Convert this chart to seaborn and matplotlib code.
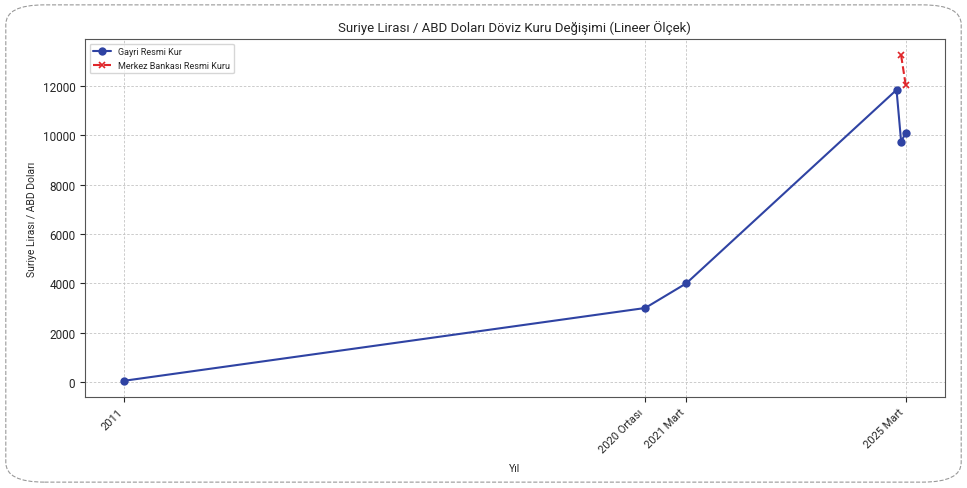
import matplotlib
matplotlib.use("Agg")
import matplotlib.pyplot as plt
import seaborn as sns
import pandas as pd
from matplotlib.patches import FancyBboxPatch

# --- Data (years as decimals, month/12) ---
gayri_years = [2011.0, 2020.5, 2021.25, 2025.083, 2025.167, 2025.25]
gayri_rates = [47, 3000, 4000, 11850, 9750, 10100]

merkez_years = [2025.167, 2025.25]
merkez_rates = [13250, 12050]

tick_positions = [2011.0, 2020.5, 2021.25, 2025.25]
tick_labels = ['2011', '2020 Ortası', '2021 Mart', '2025 Mart']

df_gayri = pd.DataFrame({'Yıl': gayri_years, 'Kur': gayri_rates})
df_merkez = pd.DataFrame({'Yıl': merkez_years, 'Kur': merkez_rates})

sns.set_style("ticks")
plt.rcParams['font.family'] = ['Roboto', 'DejaVu Sans']

fig = plt.figure(figsize=(9.67, 4.89), dpi=100)
ax = fig.add_axes([0.088, 0.186, 0.889, 0.732])

sns.lineplot(data=df_gayri, x='Yıl', y='Kur', ax=ax, color='#2f43a3', marker='o',
             markersize=6, markeredgewidth=0, linewidth=1.5)
sns.lineplot(data=df_merkez, x='Yıl', y='Kur', ax=ax, color='#e0262a', marker='x',
             markersize=4.5, markeredgewidth=1.2, markeredgecolor='#e0262a',
             linewidth=1.5, linestyle='--')

ax.set_title('Suriye Lirası / ABD Doları Döviz Kuru Değişimi (Lineer Ölçek)', fontsize=9.5)
ax.set_xlabel('Yıl', fontsize=7.5, labelpad=6)
ax.set_ylabel('Suriye Lirası / ABD Doları', fontsize=7.5, labelpad=4)
ax.set_xticks(tick_positions)
ax.set_xticklabels(tick_labels, rotation=45, ha='right', fontsize=8)
ax.tick_params(axis='y', labelsize=8.5)
ax.grid(True, linestyle=(0, (3, 2)), color='#c4c4c4', linewidth=0.6)
for s in ax.spines.values():
    s.set_color('#555555')
ax.legend(handles=ax.lines[:2], labels=['Gayri Resmi Kur', 'Merkez Bankası Resmi Kuru'],
          loc='upper left', fontsize=6.5, frameon=True)

# dashed rounded frame around the figure
frame = FancyBboxPatch((0.006, 0.012), 0.988, 0.976, boxstyle="round,pad=0,rounding_size=0.04",
                       transform=fig.transFigure, fill=False, edgecolor='#999999',
                       linestyle='--', linewidth=0.8)
fig.patches.append(frame)

plt.savefig('out.png', dpi=100)
